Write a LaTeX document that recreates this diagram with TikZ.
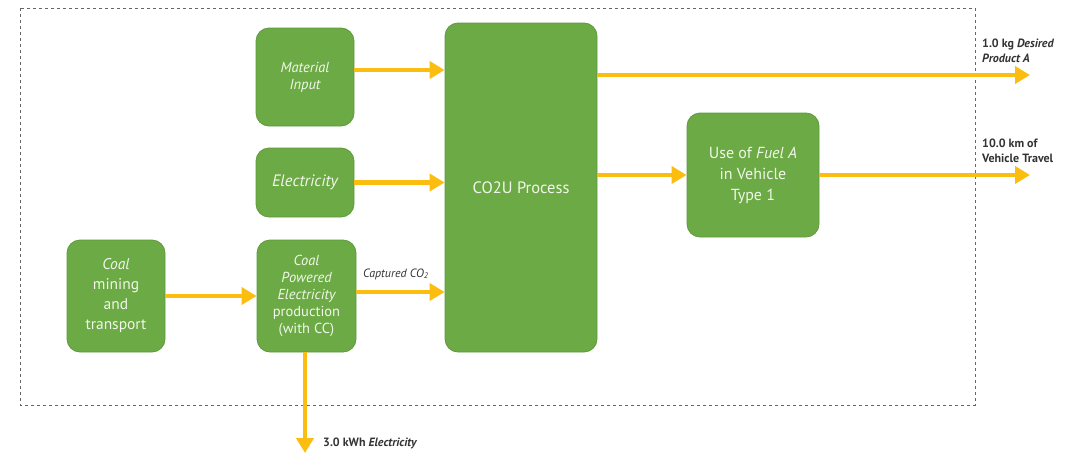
\documentclass[tikz,border=0pt]{standalone}
\usepackage{fontspec}
\setmainfont{PT Sans}
\usepackage{tikz}
\usetikzlibrary{arrows.meta, positioning, calc}
\definecolor{procgreen}{HTML}{6BAA45}
\definecolor{edgegreen}{HTML}{5E9A3C}
\definecolor{flowyellow}{HTML}{FABD10}
\definecolor{boxtext}{HTML}{F2F7EA}
\definecolor{labelgray}{HTML}{333333}
\definecolor{framegray}{HTML}{666666}

\begin{document}
\begin{tikzpicture}[
  x=1pt, y=-1pt,
  pbox/.style={rectangle, draw=edgegreen, fill=procgreen, line width=0.8pt,
               rounded corners=13pt, inner sep=0pt, align=center,
               text=boxtext, font=\fontsize{14}{18}\selectfont},
  flow/.style={-{Triangle[length=15pt,width=17pt]}, line width=4.5pt,
               color=flowyellow},
  outlbl/.style={font=\fontsize{12}{15}\selectfont\bfseries, text=labelgray,
                 align=left, inner sep=0pt}
]
\useasboundingbox (0,0) rectangle (1073,455);
\draw[framegray, dashed, line width=0.7pt] (20,8) rectangle (975,405);

\node[pbox, minimum width=98pt, minimum height=98pt,
      font=\fontsize{14.5}{17}\selectfont] (mat) at (305,77)
      {\itshape Material\\\itshape Input};
\node[pbox, minimum width=98pt, minimum height=69pt,
      font=\fontsize{16.5}{20}\selectfont] (elec) at (305,182.5)
      {\itshape Electricity};
\node[pbox, minimum width=99pt, minimum height=112pt,
      font=\fontsize{14.5}{17}\selectfont] (cpe) at (306.5,296)
      {\itshape Coal\\\itshape Powered\\\itshape Electricity\\production\\(with CC)};
\node[pbox, minimum width=98pt, minimum height=112pt,
      font=\fontsize{15.5}{20}\selectfont] (mine) at (116,296)
      {\itshape Coal\\mining\\and\\transport};
\node[pbox, minimum width=152pt, minimum height=329pt,
      font=\fontsize{16.5}{20}\selectfont] (co2u) at (521,187.5) {CO2U Process};
\node[pbox, minimum width=132pt, minimum height=124pt,
      font=\fontsize{16}{21}\selectfont] (fuel) at (753,175)
      {Use of \textit{Fuel A}\\in Vehicle\\Type 1};

\coordinate (prodA) at (1030,75);
\coordinate (travel) at (1030,175);
\coordinate (kwh) at (305,453);

\draw[flow] ([yshift=7pt]mat.east) -- ([yshift=7pt]mat.east -| co2u.west);
\draw[flow] (elec.east) -- (elec.east -| co2u.west);
\draw[flow] ([yshift=4pt]cpe.east) -- ([yshift=4pt]cpe.east -| co2u.west);
\draw[flow] (mine.east) -- (cpe.west);
\draw[flow] (co2u.east |- prodA) -- (prodA);
\draw[flow] (co2u.east |- fuel) -- (fuel.west);
\draw[flow] (fuel.east) -- (travel);
\draw[flow] (cpe.south -| kwh) -- (kwh);

\node[font=\fontsize{12}{14}\selectfont\itshape, text=labelgray, inner sep=0pt,
      anchor=west] (capt) at (363,274) {Captured CO\textsubscript{2}};
\node[outlbl, anchor=north west] (lblA) at (982,39)
      {1.0 kg \textit{Desired}\\\textit{Product A}};
\node[outlbl, anchor=north west] (lblT) at (982,139)
      {10.0 km of\\Vehicle Travel};
\node[outlbl, anchor=west] (lblE) at (323,443) {3.0 kWh \textit{Electricity}};
\end{tikzpicture}
\end{document}
